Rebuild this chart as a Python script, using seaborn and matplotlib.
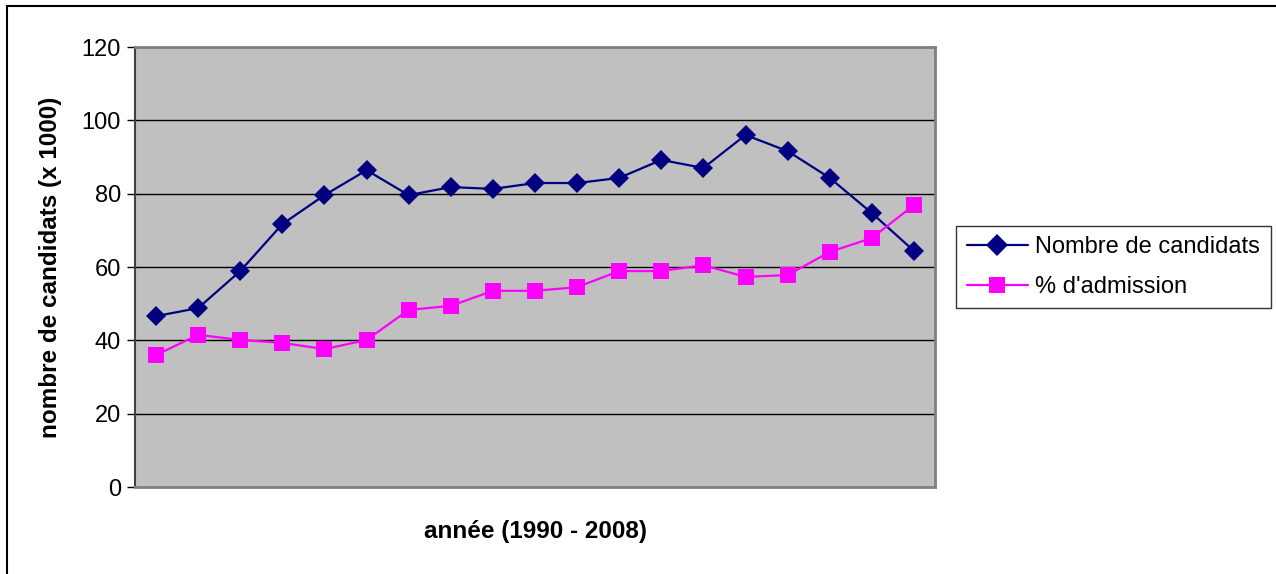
import numpy as np
import pandas as pd
import matplotlib
matplotlib.use("Agg")
import matplotlib.pyplot as plt
import seaborn as sns
from matplotlib.patches import Rectangle

years = list(range(1990, 2009))
candidats = [46.6, 48.8, 58.9, 71.7, 79.6, 86.4, 79.6, 81.8, 81.3, 82.9,
             82.9, 84.3, 89.2, 87.0, 96.0, 91.6, 84.3, 74.7, 64.4]
admission = [36.0, 41.5, 40.1, 39.3, 37.6, 40.1, 48.3, 49.4, 53.5, 53.5,
             54.5, 58.9, 58.9, 60.5, 57.3, 57.8, 64.1, 67.9, 76.9]
series_names = ["Nombre de candidats", "% d'admission"]
y_ticks = [0, 20, 40, 60, 80, 100, 120]

sns.set_style("white")
plt.rcParams['font.family'] = ['Liberation Sans', 'DejaVu Sans']
plt.rcParams['text.color'] = 'black'
plt.rcParams['axes.labelcolor'] = 'black'
plt.rcParams['ytick.color'] = 'black'

df = pd.DataFrame({"idx": np.arange(len(years)), "year": years,
                   series_names[0]: candidats, series_names[1]: admission})
long = df.melt(id_vars=["idx", "year"], var_name="serie", value_name="val")

fig = plt.figure(figsize=(12.76, 5.74), dpi=100)
ax = fig.add_axes([135 / 1276, 87 / 574, 800 / 1276, 440 / 574])
ax.set_facecolor("#c0c0c0")

sns.lineplot(data=long, x="idx", y="val", hue="serie", style="serie",
             palette=["#000080", "#ff00ff"], markers=["D", "s"], dashes=False,
             markersize=10, markeredgewidth=0, linewidth=1.6, ax=ax)
ax.lines[1].set_markersize(12)

ax.set_xlim(-0.5, len(years) - 0.5)
ax.set_ylim(0, 120)
ax.set_yticks(y_ticks)
ax.set_xticks([])
for t in y_ticks[1:]:
    ax.axhline(t, color="black", linewidth=1, zorder=0.5)
ax.tick_params(axis="y", length=6, width=1, direction="out", left=True,
               labelsize=17, pad=4, color="black")
for s in ["top", "right", "bottom"]:
    ax.spines[s].set_color("#808080")
    ax.spines[s].set_linewidth(2)
ax.spines["left"].set_color("#404040")
ax.spines["left"].set_linewidth(1.5)

ax.set_ylabel("nombre de candidats (x 1000)", fontsize=17.5, fontweight="bold", labelpad=14)
ax.set_xlabel("année (1990 - 2008)", fontsize=17.5, fontweight="bold", labelpad=24)

handles, labels = ax.get_legend_handles_labels()
for h in handles:
    h.set_markersize(11)
leg = ax.legend(handles, labels, loc="center left", bbox_to_anchor=(956 / 1276, 1 - 267 / 574),
                bbox_transform=fig.transFigure, fontsize=17, frameon=True, fancybox=False,
                edgecolor="black", handlelength=2.6, borderpad=0.45, labelspacing=0.75,
                handletextpad=0.3, borderaxespad=0)
leg.get_frame().set_linewidth(1)

fig.patches.append(Rectangle((7 / 1276, -0.1), 1.2, 1 - 6 / 574 + 0.1, transform=fig.transFigure,
                             fill=False, edgecolor="black", linewidth=1.5, zorder=10))

fig.savefig("out.png", dpi=100, facecolor="white")
